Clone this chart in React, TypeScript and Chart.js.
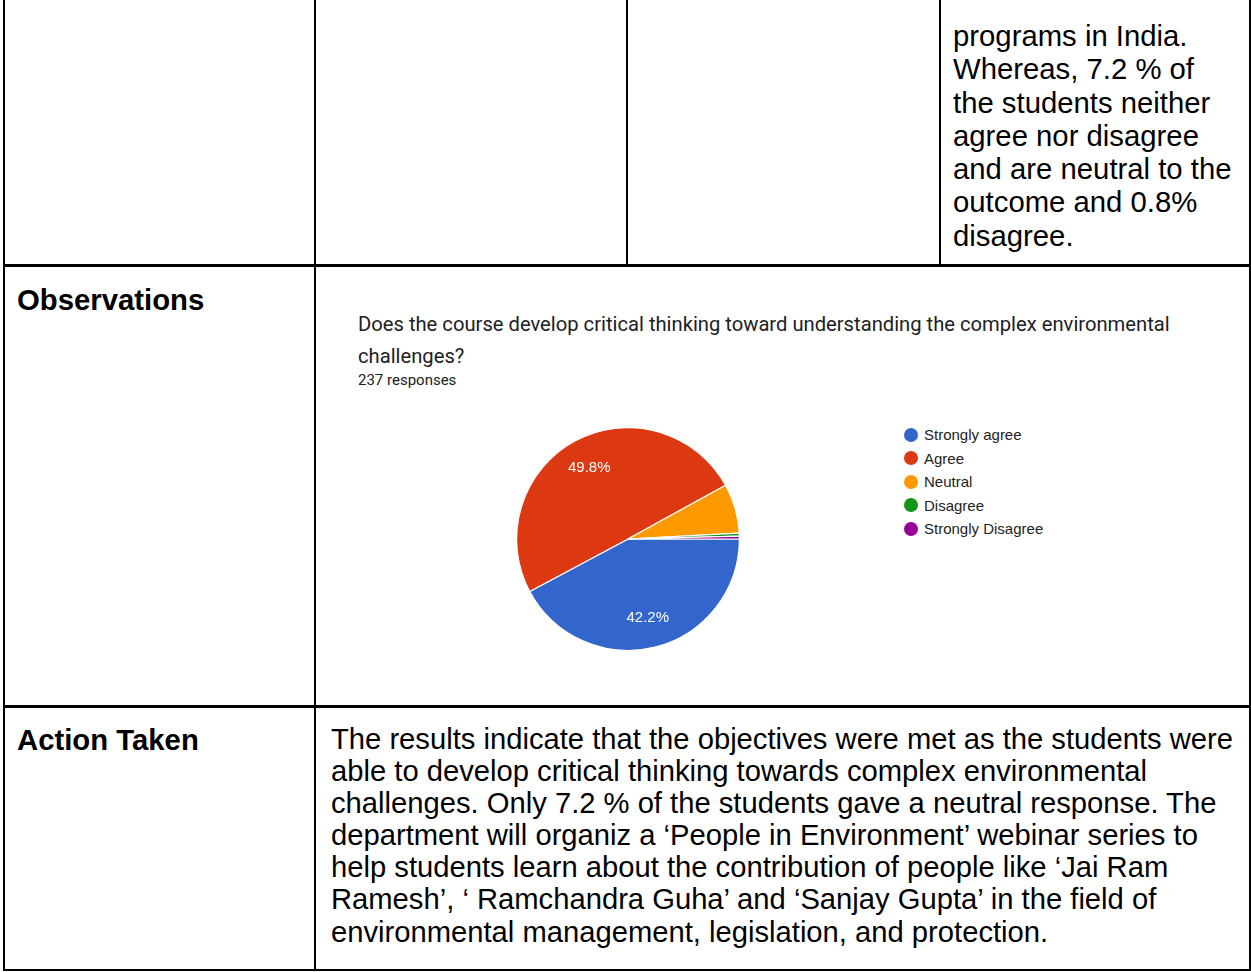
import React, { useEffect, useRef } from "react";
import { Chart, registerables } from "chart.js";

Chart.register(...registerables);

// ---- data ----
const categories = ["Strongly agree", "Agree", "Neutral", "Disagree", "Strongly Disagree"];
const responses = [100, 118, 17, 1, 1];
const sliceColors = ["#3366cc", "#dc3912", "#ff9900", "#109618", "#990099"];
const chartTitleLines = [
  "Does the course develop critical thinking toward understanding the complex environmental",
  "challenges?",
];
const responseCountLabel = "237 responses";
const topCellLines = [
  "programs in India.",
  "Whereas, 7.2 % of",
  "the students neither",
  "agree nor disagree",
  "and are neutral to the",
  "outcome and 0.8%",
  "disagree.",
];
const observationsLabel = "Observations";
const actionLabel = "Action Taken";
const actionLines = [
  "The results indicate that the objectives were met as the students were",
  "able to develop critical thinking towards complex environmental",
  "challenges. Only 7.2 % of the students gave a neutral response. The",
  "department will organiz a \u2018People in Environment\u2019 webinar series to",
  "help students learn about the contribution of people like \u2018Jai Ram",
  "Ramesh\u2019, \u2018 Ramchandra Guha\u2019 and \u2018Sanjay Gupta\u2019 in the field of",
  "environmental management, legislation, and protection.",
];

const DOC_FONT = '"Liberation Sans", Arial, sans-serif';

const pctLabelPlugin = {
  id: "pctLabels",
  afterDatasetsDraw(chart: any) {
    const meta = chart.getDatasetMeta(0);
    const data = chart.data.datasets[0].data as number[];
    const total = data.reduce((a: number, b: number) => a + b, 0);
    const ctx = chart.ctx as CanvasRenderingContext2D;
    ctx.save();
    ctx.font = '15px "Liberation Sans", Arial, sans-serif';
    ctx.fillStyle = "#ffffff";
    ctx.textAlign = "center";
    ctx.textBaseline = "middle";
    meta.data.forEach((arc: any, i: number) => {
      const pct = (data[i] / total) * 100;
      if (pct < 10) return;
      const { x, y, startAngle, endAngle, outerRadius } = arc.getProps(
        ["x", "y", "startAngle", "endAngle", "outerRadius"],
        true
      );
      const mid = (startAngle + endAngle) / 2;
      const r = outerRadius * 0.73;
      ctx.fillText(pct.toFixed(1) + "%", x + Math.cos(mid) * r, y + Math.sin(mid) * r);
    });
    ctx.restore();
  },
};

function PieChart() {
  const ref = useRef<HTMLCanvasElement | null>(null);
  useEffect(() => {
    if (!ref.current) return;
    const chart = new Chart(ref.current, {
      type: "pie",
      data: {
        labels: categories,
        datasets: [
          {
            data: responses,
            backgroundColor: sliceColors,
            borderColor: "#ffffff",
            borderWidth: 1.2,
          },
        ],
      },
      options: {
        responsive: false,
        animation: false,
        rotation: 90,
        layout: { padding: 8 },
        plugins: {
          legend: { display: false },
          tooltip: { enabled: false },
          title: { display: false },
        },
      },
      plugins: [pctLabelPlugin],
    });
    return () => chart.destroy();
  }, []);
  return (
    <canvas
      ref={ref}
      width={240}
      height={240}
      style={{ position: "absolute", left: 508, top: 419, width: 240, height: 240 }}
    />
  );
}

const line = (l: number, t: number, w: number, h: number, key: string) => (
  <div key={key} style={{ position: "absolute", left: l, top: t, width: w, height: h, background: "#000" }} />
);

export default function App() {
  return (
    <div
      style={{
        position: "absolute",
        left: 0,
        top: 0,
        width: 1251,
        height: 972,
        overflow: "hidden",
        background: "#fff",
        fontFamily: DOC_FONT,
        color: "#000",
      }}
    >
      {/* table borders */}
      {line(3, 0, 2, 971, "v0")}
      {line(314, 0, 2, 971, "v1")}
      {line(626, 0, 2, 265, "v2")}
      {line(939, 0, 2, 265, "v3")}
      {line(1249, 0, 2, 971, "v4")}
      {line(3, 264, 1248, 3, "h1")}
      {line(3, 705, 1248, 3, "h2")}
      {line(3, 969, 1248, 2, "h3")}

      {/* top right cell text */}
      <div style={{ position: "absolute", left: 953, top: 19, fontSize: 29.3, lineHeight: "33.3px", whiteSpace: "nowrap" }}>
        {topCellLines.map((t, i) => (
          <div key={i}>{t}</div>
        ))}
      </div>

      {/* Observations row */}
      <div style={{ position: "absolute", left: 17, top: 283, fontSize: 29.3, lineHeight: "33px", fontWeight: "bold", whiteSpace: "nowrap" }}>
        {observationsLabel}
      </div>

      {/* chart title */}
      <div
        style={{
          position: "absolute",
          left: 358,
          top: 308,
          fontFamily: "Roboto, sans-serif",
          fontSize: 20.2,
          lineHeight: "32px",
          color: "#202124",
          whiteSpace: "nowrap",
        }}
      >
        {chartTitleLines.map((t, i) => (
          <div key={i}>{t}</div>
        ))}
      </div>
      <div
        style={{
          position: "absolute",
          left: 358,
          top: 371,
          fontFamily: "Roboto, sans-serif",
          fontSize: 15,
          lineHeight: "18px",
          color: "#202124",
          whiteSpace: "nowrap",
        }}
      >
        {responseCountLabel}
      </div>

      <PieChart />

      {/* legend */}
      <div style={{ position: "absolute", left: 904, top: 423 }}>
        {categories.map((c, i) => (
          <div key={c} style={{ display: "flex", alignItems: "center", height: 23.5 }}>
            <span
              style={{
                display: "inline-block",
                width: 14,
                height: 14,
                borderRadius: "50%",
                background: sliceColors[i],
                marginRight: 6,
              }}
            />
            <span style={{ fontFamily: DOC_FONT, fontSize: 15, color: "#222", whiteSpace: "nowrap" }}>{c}</span>
          </div>
        ))}
      </div>

      {/* Action Taken row */}
      <div style={{ position: "absolute", left: 17, top: 723, fontSize: 29.3, lineHeight: "33px", fontWeight: "bold", whiteSpace: "nowrap" }}>
        {actionLabel}
      </div>
      <div style={{ position: "absolute", left: 331, top: 723, fontSize: 29.2, lineHeight: "32.1px", whiteSpace: "nowrap" }}>
        {actionLines.map((t, i) => (
          <div key={i}>{t}</div>
        ))}
      </div>
    </div>
  );
}
